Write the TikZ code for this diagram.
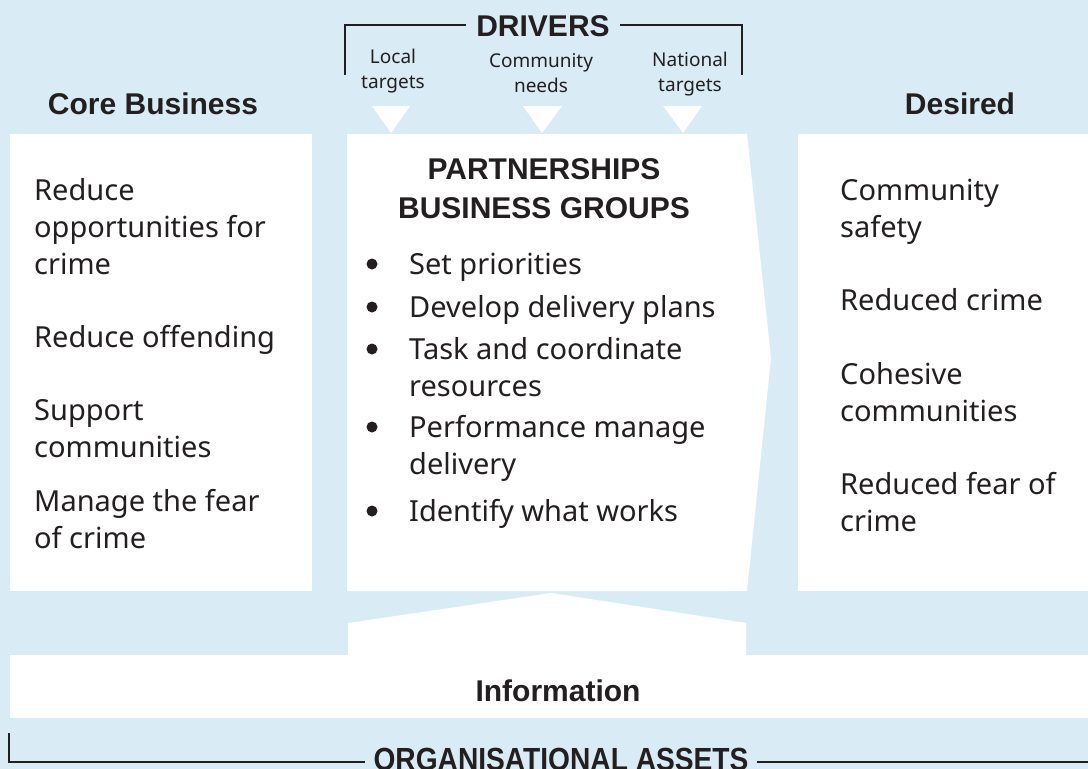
\documentclass[tikz,border=0pt]{standalone}
\usepackage{fontspec}
\setmainfont{Noto Sans}
\newfontfamily\headfont{Liberation Sans}
\definecolor{bgblue}{RGB}{217,236,245}
\definecolor{ink}{RGB}{35,31,32}
\begin{document}
\begin{tikzpicture}[x=1pt,y=-1pt,
  body/.style={anchor=base west,inner sep=0pt,text=ink,font=\fontsize{29}{37}\selectfont},
  head/.style={anchor=base,inner sep=0pt,text=ink,font=\headfont\bfseries\fontsize{30}{38}\selectfont},
  drv/.style={anchor=base,inner sep=0pt,text=ink,align=center,font=\fontsize{19}{25}\selectfont},
  bul/.style={circle,fill=ink,inner sep=0pt,minimum size=11pt},
  bracket/.style={draw=ink,line width=1.8pt},
  panel/.style={fill=white,draw=none}]
\useasboundingbox (0,0) rectangle (1088,769);
\fill[bgblue] (0,0) rectangle (1088,769);
% panels
\fill[panel] (10,134) rectangle (312,591);
\fill[panel] (347,134) -- (747,134) -- (771,358) -- (747,591) -- (347,591) -- cycle;
\fill[panel] (798,134) rectangle (1088,591);
\fill[panel] (10,655) rectangle (1088,718);
\fill[panel] (348,656) -- (348,623) -- (551,593) -- (746,623) -- (746,656) -- cycle;
% drivers
\node[head] (drivers) at (543,36) {DRIVERS};
\draw[bracket] ([xshift=-10pt]drivers.west |- 0,25) -| (345,75);
\draw[bracket] ([xshift=10pt]drivers.east |- 0,25) -| (742,75);
\node[drv] (dl) at (393,88) {Local\\targets};
\node[drv] (dc) at (541,92) {Community\\needs};
\node[drv] (dn) at (690,91) {National\\targets};
\fill[white] (372,106) -- (410,106) -- (391,133) -- cycle;
\fill[white] (523,106) -- (562,106) -- (542,133) -- cycle;
\fill[white] (663,106) -- (702,106) -- (683,133) -- cycle;
% headings
\node[head] (core) at (153,114) {Core Business};
\node[head] (desired) at (960,114) {Desired};
\node[head] (pt1) at (544,179) {PARTNERSHIPS};
\node[head] (pt2) at (544,218) {BUSINESS GROUPS};
\node[head] (info) at (558,701) {Information};
\node[head,font=\headfont\bfseries\fontsize{32}{38}\selectfont] (assets) at (561,770) {\scalebox{0.88}[1]{ORGANISATIONAL ASSETS}};
\draw[bracket] (9,733) |- ([xshift=-8pt]assets.west |- 0,762);
\draw[bracket] ([xshift=8pt]assets.east |- 0,762) -- (1088,762);
% left column
\node[body] (c1a) at (34,200) {Reduce};
\node[body] (c1b) at (34,237) {opportunities for};
\node[body] (c1c) at (34,274) {crime};
\node[body] (c2) at (34,347) {Reduce offending};
\node[body] (c3a) at (34,420) {Support};
\node[body] (c3b) at (34,457) {communities};
\node[body] (c4a) at (34,511) {Manage the fear};
\node[body] (c4b) at (34,548) {of crime};
% middle column
\foreach \y/\n in {264/b1,307/b2,349/b3,427/b4,511/b5}
  \node[bul] (\n) at (372,\y) {};
\node[body] (m1) at (409,274) {Set priorities};
\node[body] (m2) at (409,317) {Develop delivery plans};
\node[body] (m3a) at (409,359) {Task and coordinate};
\node[body] (m3b) at (409,396) {resources};
\node[body] (m4a) at (409,437) {Performance manage};
\node[body] (m4b) at (409,474) {delivery};
\node[body] (m5) at (409,521) {Identify what works};
% right column
\node[body] (d1a) at (840,200) {Community};
\node[body] (d1b) at (840,237) {safety};
\node[body] (d2) at (840,310) {Reduced crime};
\node[body] (d3a) at (840,384) {Cohesive};
\node[body] (d3b) at (840,421) {communities};
\node[body] (d4a) at (840,494) {Reduced fear of};
\node[body] (d4b) at (840,531) {crime};
\end{tikzpicture}
\end{document}
